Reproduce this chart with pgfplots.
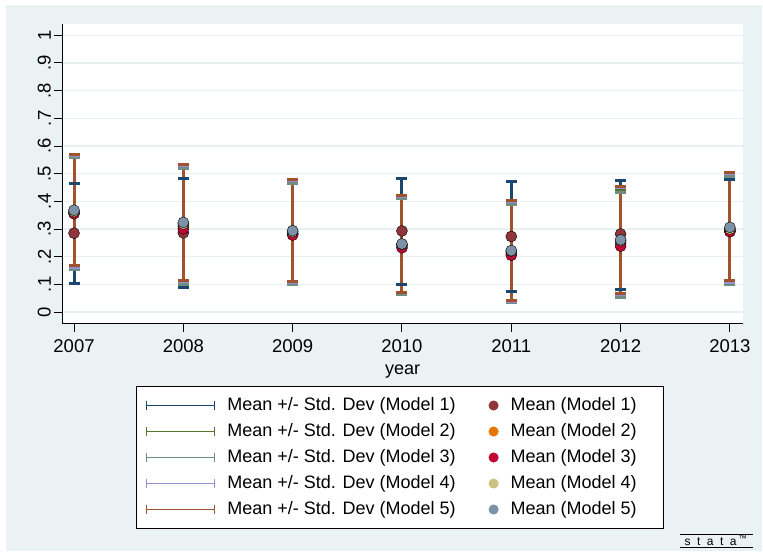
\documentclass[border=0pt]{standalone}
\usepackage{fontspec}
\setmainfont{Liberation Sans}
\usepackage{pgfplots}
\pgfplotsset{compat=1.18}
\usepackage{pgfplotstable}

\definecolor{bgc}{RGB}{234,242,243}
\definecolor{gridc}{RGB}{232,240,242}
\definecolor{snavy}{RGB}{26,71,111}
\definecolor{smaroon}{RGB}{144,53,59}
\definecolor{sgreen}{RGB}{85,117,47}
\definecolor{sorange}{RGB}{227,119,0}
\definecolor{steal}{RGB}{110,142,132}
\definecolor{scran}{RGB}{193,5,52}
\definecolor{slav}{RGB}{147,141,210}
\definecolor{skhaki}{RGB}{202,194,126}
\definecolor{ssienna}{RGB}{160,82,45}
\definecolor{sblue}{RGB}{123,146,168}

\pgfplotstableread{
year mean lo hi
2007 0.285 0.104 0.464
2008 0.286 0.088 0.484
2009 0.283 0.100 0.466
2010 0.293 0.100 0.482
2011 0.273 0.075 0.471
2012 0.282 0.082 0.477
2013 0.292 0.100 0.480
}\mone
\pgfplotstableread{
year mean lo hi
2007 0.358 0.156 0.560
2008 0.310 0.101 0.522
2009 0.283 0.101 0.467
2010 0.240 0.066 0.416
2011 0.213 0.037 0.395
2012 0.250 0.058 0.442
2013 0.296 0.100 0.493
}\mtwo
\pgfplotstableread{
year mean lo hi
2007 0.355 0.152 0.558
2008 0.300 0.099 0.518
2009 0.278 0.098 0.464
2010 0.232 0.062 0.409
2011 0.205 0.033 0.388
2012 0.238 0.054 0.431
2013 0.290 0.098 0.490
}\mthree
\pgfplotstableread{
year mean lo hi
2007 0.363 0.161 0.565
2008 0.318 0.109 0.529
2009 0.290 0.105 0.475
2010 0.244 0.069 0.419
2011 0.220 0.039 0.400
2012 0.258 0.065 0.450
2013 0.300 0.108 0.500
}\mfour
\pgfplotstableread{
year mean lo hi
2007 0.368 0.167 0.570
2008 0.324 0.113 0.534
2009 0.294 0.110 0.478
2010 0.246 0.071 0.421
2011 0.222 0.040 0.403
2012 0.261 0.068 0.454
2013 0.306 0.113 0.505
}\mfive

% rcap: segment + caps
\newcommand{\rcap}[3]{%
  \addlegendimage{legend image code/.code={%
      \draw[#1, line width=1.8bp] (1bp,-4.5bp) -- (1bp,4.5bp)
        (1bp,0bp) -- (69bp,0bp)
        (69bp,-4.5bp) -- (69bp,4.5bp);}}
  \addlegendentry{Mean +/- Std. Dev (Model #3)}
  \addplot[draw=none, mark=none, forget plot,
    error bars/.cd, y dir=both, y explicit, error mark=none,
    error bar style={#1, line width=3bp}]
    table[x=year, y=mean, y error plus expr=\thisrow{hi}-\thisrow{mean},
          y error minus expr=\thisrow{mean}-\thisrow{lo}] {#2};
  \addplot[#1, only marks, mark=-, mark size=5.5bp, mark options={line width=3bp}, forget plot]
    table[x=year, y=lo] {#2};
  \addplot[#1, only marks, mark=-, mark size=5.5bp, mark options={line width=3bp}, forget plot]
    table[x=year, y=hi] {#2};
}
\newcommand{\mpts}[3]{%
  \addplot[only marks, mark=*, mark size=5.5bp, mark options={draw=none, fill=#1},
    legend image code/.code={\fill[#1] (0bp,0bp) circle (4.5bp);}]
    table[x=year, y=mean] {#2};
  \addlegendentry{Mean (Model #3)\kern18bp}
}

\begin{document}
\begin{tikzpicture}[x=1bp,y=1bp]
\path[use as bounding box] (0,0) rectangle (763,556);
\fill[white] (0,0) rectangle (763,556);
\fill[bgc] (6,5) rectangle (762,551);
\begin{axis}[
  at={(62bp,232bp)}, anchor=south west,
  scale only axis, width=681bp, height=300bp,
  xmin=2006.89, xmax=2013.12, ymin=-0.0433, ymax=1.041,
  axis background/.style={fill=white},
  axis lines*=left,
  axis line style={black, line width=1bp, -},
  tick style={black, line width=1bp},
  tick align=outside, major tick length=8bp,
  xtick={2007,2008,2009,2010,2011,2012,2013},
  xticklabels={2007,2008,2009,2010,2011,2012,2013},
  ytick={0,0.1,0.2,0.3,0.4,0.5,0.6,0.7,0.8,0.9,1},
  yticklabels={0,.1,.2,.3,.4,.5,.6,.7,.8,.9,1},
  tick label style={font=\fontsize{18.5bp}{22bp}\selectfont},
  yticklabel style={rotate=90, anchor=south, inner sep=3bp},
  xticklabel style={inner sep=3bp, yshift=-4bp},
  ymajorgrids, grid style={gridc, line width=1.5bp},
  xlabel={year},
  xlabel style={font=\fontsize{18bp}{21bp}\selectfont, inner sep=0bp, yshift=-9bp},
  legend columns=2,
  legend cell align=left,
  legend style={at={(axis description cs:0.1087,-0.2067)}, anchor=north west,
    draw=black, line width=1bp, fill=white,
    font=\fontsize{18bp}{21bp}\selectfont,
    column sep=12bp,
    /tikz/every even column/.append style={column sep=33bp},
    row sep=0bp, inner xsep=9bp, inner ysep=6bp,
    nodes={inner sep=0bp, text height=14bp, text depth=5bp, minimum height=26bp}},
]
\rcap{snavy}{\mone}{1}
\mpts{smaroon}{\mone}{1}
\rcap{sgreen}{\mtwo}{2}
\mpts{sorange}{\mtwo}{2}
\rcap{steal}{\mthree}{3}
\mpts{scran}{\mthree}{3}
\rcap{slav}{\mfour}{4}
\mpts{skhaki}{\mfour}{4}
\rcap{ssienna}{\mfive}{5}
\mpts{sblue}{\mfive}{5}
\end{axis}
\draw[black, line width=0.8bp] (680,22) -- (753,22);
\node[anchor=base, inner sep=0pt, font=\fontsize{12bp}{14bp}\selectfont] at (716,10) {s\hspace{6.5bp}t\hspace{6.5bp}a\hspace{6.5bp}t\hspace{6.5bp}a\hspace{2bp}\textsuperscript{™}};
\draw[black, line width=0.8bp] (680,8.5) -- (753,8.5);
\end{tikzpicture}
\end{document}
